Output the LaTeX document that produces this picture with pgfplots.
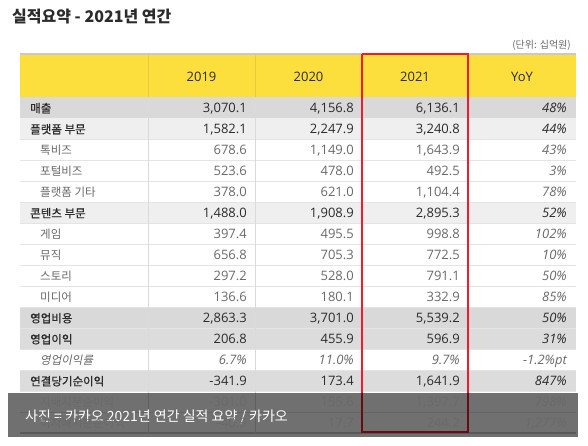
\documentclass[border=0pt]{standalone}
\usepackage{pgfplots}
\usepackage{pgfplotstable}
\pgfplotsset{compat=1.18}
\usepackage{fontspec}
\setmainfont{Noto Sans CJK KR}
\newfontfamily\krit{Noto Sans CJK KR}[FakeSlant=0.2]
\newfontfamily\krmain{Noto Sans CJK KR}[FakeBold=0.7]
\newfontfamily\num{Open Sans}
\definecolor{hdr}{HTML}{FCDF3C}
\definecolor{hdrline}{HTML}{C9C9C9}
\definecolor{hdrsep}{HTML}{E6CC3A}
\definecolor{rowdark}{HTML}{D9D9D9}
\definecolor{rowmid}{HTML}{DCDCDC}
\definecolor{rowlight}{HTML}{EFEFEF}
\definecolor{txt}{HTML}{2B2B2B}
\definecolor{subtxt}{HTML}{6A6A6A}
\definecolor{redbox}{HTML}{EE1C2E}
\definecolor{sep}{HTML}{E4E4E4}
\definecolor{vsep}{HTML}{DADADA}

\pgfplotstableread[col sep=semicolon]{
idx;label;a;b;c;d
0;매출;3,070.1;4,156.8;6,136.1;48\%
1;플랫폼 부문;1,582.1;2,247.9;3,240.8;44\%
5;콘텐츠 부문;1,488.0;1,908.9;2,895.3;52\%
10;영업비용;2,863.3;3,701.0;5,539.2;50\%
11;영업이익;206.8;455.9;596.9;31\%
13;연결당기순이익;-341.9;173.4;1,641.9;847\%
}\maintbl

\pgfplotstableread[col sep=semicolon]{
idx;label;a;b;c;d
2;톡비즈;678.6;1,149.0;1,643.9;43\%
3;포털비즈;523.6;478.0;492.5;3\%
4;플랫폼 기타;378.0;621.0;1,104.4;78\%
6;게임;397.4;495.5;998.8;102\%
7;뮤직;656.8;705.3;772.5;10\%
8;스토리;297.2;528.0;791.1;50\%
9;미디어;136.6;180.1;332.9;85\%
14;지배지분순이익;-301.0;155.6;1,397.7;798\%
15;비지배지분순이익;-40.9;17.7;244.2;1,277\%
}\subtbl

\pgfplotstableread[col sep=semicolon]{
idx;label;a;b;c;d
12;영업이익률;6.7\%;11.0\%;9.7\%;-1.2\%pt
}\ratiotbl

\pgfplotsset{
  txtcol/.style n args={3}{draw=none, mark=none, forget plot,
    nodes near coords, point meta=explicit symbolic,
    nodes near coords style={anchor=#1, inner sep=0pt, font=#2, text=#3}},
}
\newcommand{\rect}[5]{\addplot[fill=#1, draw=none, forget plot] coordinates {(#2,#3) (#4,#3) (#4,#5) (#2,#5)};}
\newcommand{\hrow}[3]{\addplot[draw=#1, line width=#2, forget plot] coordinates {(20,#3) (576,#3)};}

\begin{document}
\begin{tikzpicture}
\begin{axis}[width=588pt, height=445pt, scale only axis,
  xmin=0, xmax=588, ymin=0, ymax=445, y dir=reverse,
  hide axis, clip=false]
% background
\rect{white}{0}{0}{588}{445}
% header
\rect{hdrline}{20}{52.5}{576}{54.5}
\rect{hdr}{20}{54.5}{576}{97}
\addplot[draw=hdrsep, line width=0.8pt, forget plot] coordinates {(148,54.5) (148,97)};
\addplot[draw=hdrsep, line width=0.8pt, forget plot] coordinates {(255,54.5) (255,97)};
% row fills
\rect{rowdark}{20}{97}{576}{118}
\rect{rowlight}{20}{118}{576}{139}
\rect{rowlight}{20}{202}{576}{223}
\rect{rowdark}{20}{307}{576}{328}
\rect{rowmid}{20}{328}{576}{349}
\rect{rowmid}{20}{370}{576}{391}
% row separators
\hrow{sep}{0.8pt}{139}
\hrow{sep}{0.8pt}{160}
\hrow{sep}{0.8pt}{181}
\hrow{sep}{0.8pt}{202}
\hrow{sep}{0.8pt}{223}
\hrow{sep}{0.8pt}{244}
\hrow{sep}{0.8pt}{265}
\hrow{sep}{0.8pt}{286}
\hrow{sep}{0.8pt}{307}
\hrow{sep}{0.8pt}{328}
\hrow{sep}{0.8pt}{349}
\hrow{sep}{0.8pt}{370}
\hrow{sep}{0.8pt}{391}
\hrow{sep}{0.8pt}{412}
\hrow{hdrline}{1.2pt}{433}
% vertical separators
\addplot[draw=vsep, line width=0.8pt, forget plot] coordinates {(148,97) (148,433)};
\addplot[draw=vsep, line width=0.8pt, forget plot] coordinates {(255,97) (255,433)};
\addplot[draw=vsep, line width=0.8pt, forget plot] coordinates {(468,97) (468,433)};
% header labels
\addplot[txtcol={base}{\num\fontsize{13}{15}\selectfont}{txt}] coordinates {(201.5,81) [2019] (308.5,81) [2020] (415,81) [2021] (522,81) [YoY]};
% main rows
\addplot[txtcol={base west}{\krmain\fontsize{11.5}{13}\selectfont}{txt}] table[x expr=30, y expr=112.5+21*\thisrow{idx}, meta=label] {\maintbl};
\addplot[txtcol={base east}{\num\fontsize{13}{15}\selectfont}{txt}] table[x expr=247, y expr=112.5+21*\thisrow{idx}, meta=a] {\maintbl};
\addplot[txtcol={base east}{\num\fontsize{13}{15}\selectfont}{txt}] table[x expr=354, y expr=112.5+21*\thisrow{idx}, meta=b] {\maintbl};
\addplot[txtcol={base east}{\num\fontsize{13}{15}\selectfont}{txt}] table[x expr=460, y expr=112.5+21*\thisrow{idx}, meta=c] {\maintbl};
\addplot[txtcol={base east}{\num\itshape\fontsize{13}{15}\selectfont}{txt}] table[x expr=567, y expr=112.5+21*\thisrow{idx}, meta=d] {\maintbl};
% sub rows
\addplot[txtcol={base west}{\fontsize{11.5}{13}\selectfont}{subtxt}] table[x expr=40, y expr=112.5+21*\thisrow{idx}, meta=label] {\subtbl};
\addplot[txtcol={base east}{\num\fontsize{13}{15}\selectfont}{subtxt}] table[x expr=247, y expr=112.5+21*\thisrow{idx}, meta=a] {\subtbl};
\addplot[txtcol={base east}{\num\fontsize{13}{15}\selectfont}{subtxt}] table[x expr=354, y expr=112.5+21*\thisrow{idx}, meta=b] {\subtbl};
\addplot[txtcol={base east}{\num\fontsize{13}{15}\selectfont}{subtxt}] table[x expr=460, y expr=112.5+21*\thisrow{idx}, meta=c] {\subtbl};
\addplot[txtcol={base east}{\num\itshape\fontsize{13}{15}\selectfont}{subtxt}] table[x expr=567, y expr=112.5+21*\thisrow{idx}, meta=d] {\subtbl};
% ratio row
\addplot[txtcol={base west}{\krit\fontsize{11.5}{13}\selectfont}{subtxt}] table[x expr=40, y expr=112.5+21*\thisrow{idx}, meta=label] {\ratiotbl};
\addplot[txtcol={base east}{\num\itshape\fontsize{13}{15}\selectfont}{subtxt}] table[x expr=247, y expr=112.5+21*\thisrow{idx}, meta=a] {\ratiotbl};
\addplot[txtcol={base east}{\num\itshape\fontsize{13}{15}\selectfont}{subtxt}] table[x expr=354, y expr=112.5+21*\thisrow{idx}, meta=b] {\ratiotbl};
\addplot[txtcol={base east}{\num\itshape\fontsize{13}{15}\selectfont}{subtxt}] table[x expr=460, y expr=112.5+21*\thisrow{idx}, meta=c] {\ratiotbl};
\addplot[txtcol={base east}{\num\itshape\fontsize{13}{15}\selectfont}{subtxt}] table[x expr=567, y expr=112.5+21*\thisrow{idx}, meta=d] {\ratiotbl};
% red box around 2021
\addplot[draw=redbox, line width=1.6pt, forget plot] coordinates {(362,54) (468,54) (468,432) (362,432) (362,54)};
% overlay caption band
\addplot[fill=black, fill opacity=0.56, draw=none, forget plot] coordinates {(8,393) (578,393) (578,437) (8,437)};
\node[anchor=base west, inner sep=0pt, text=white, font=\fontsize{14}{16}\selectfont] at (axis cs:25,421.5) {사진 = 카카오 2021년 연간 실적 요약 / 카카오};
% title and unit
\node[anchor=base west, inner sep=0pt, text=txt, font=\bfseries\fontsize{16}{19}\selectfont] at (axis cs:12,22.5) {실적요약 - 2021년 연간};
\node[anchor=base east, inner sep=0pt, text=subtxt, font=\fontsize{10}{12}\selectfont] at (axis cs:571,48) {(단위: 십억원)};
\end{axis}
\end{tikzpicture}
\end{document}
